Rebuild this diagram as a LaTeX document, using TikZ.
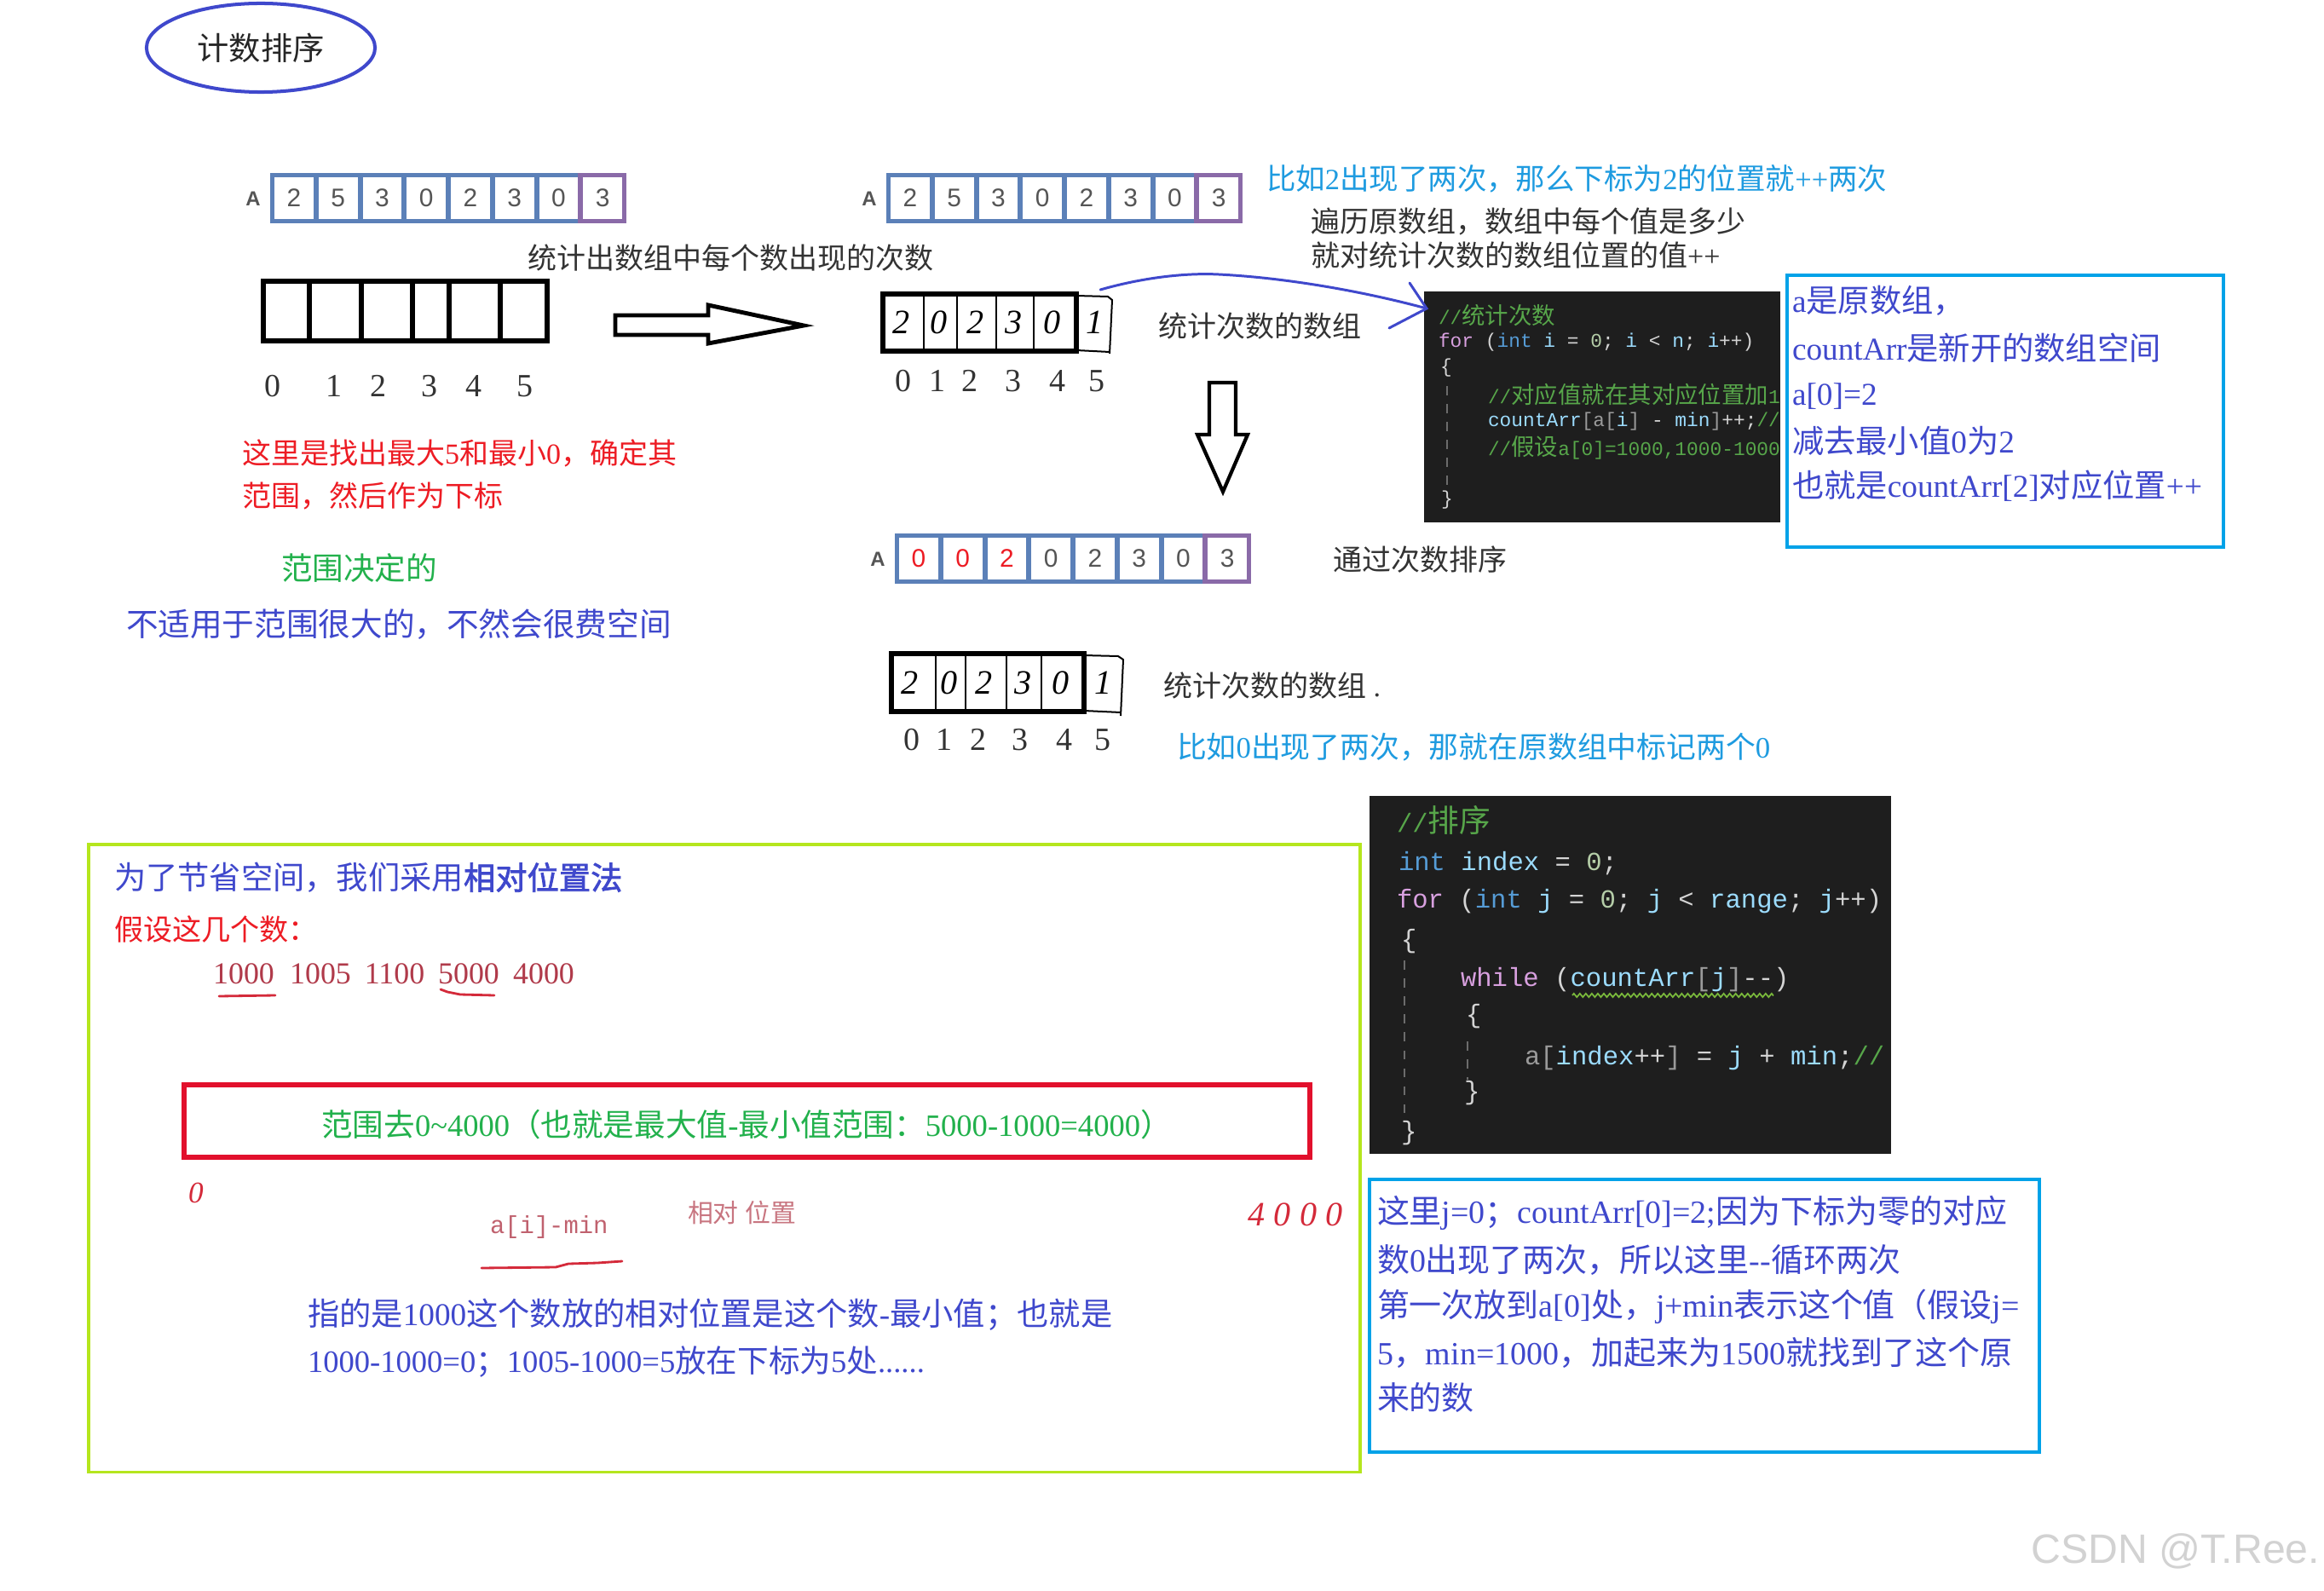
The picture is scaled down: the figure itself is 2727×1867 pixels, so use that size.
\documentclass[tikz,border=0pt]{standalone}
\usepackage{fontspec}
\setmainfont{Liberation Serif}
\setmonofont{Liberation Mono}
\newfontfamily\cjkreg{Noto Sans CJK SC}
\newfontfamily\cjkbf[FakeBold=2]{Noto Sans CJK SC}
\newfontfamily\cjkcode[Scale=1.2]{Noto Sans CJK SC}
\newfontfamily\sansf{Liberation Sans}
\usetikzlibrary{shapes.geometric,decorations.pathmorphing}

% automatic switch to the CJK font for CJK characters
\XeTeXinterchartokenstate=1
\chardef\CJKcls=200
\newcount\cjkcnt
\def\cjkrange#1#2{\cjkcnt=#1\relax
  \loop\XeTeXcharclass\cjkcnt=\CJKcls\relax
  \ifnum\cjkcnt<#2\relax\advance\cjkcnt by 1\relax\repeat}
\cjkrange{"3000}{"303F}
\cjkrange{"4E00}{"9FFF}
\cjkrange{"FF00}{"FFEF}
\def\cjkfont{\cjkreg}
\def\cjkprev{}
\def\cjkenter{\expandafter\let\expandafter\cjkprev\the\font\cjkfont}
\XeTeXinterchartoks 0 \CJKcls = {\cjkenter}
\XeTeXinterchartoks 4095 \CJKcls = {\cjkenter}
\XeTeXinterchartoks \CJKcls 0 = {\cjkprev}
\XeTeXinterchartoks \CJKcls 4095 = {\cjkprev}

\newcommand\fsz[1]{\fontsize{#1pt}{#1pt}\selectfont}

\definecolor{ellc}{HTML}{3F48CC}
\definecolor{blueT}{HTML}{3F48CC}
\definecolor{cyanT}{HTML}{1E9BE0}
\definecolor{redT}{HTML}{ED1C24}
\definecolor{greenT}{HTML}{22B14C}
\definecolor{grayT}{HTML}{333333}
\definecolor{arrblue}{HTML}{5B80B8}
\definecolor{arrpurple}{HTML}{8A6AA8}
\definecolor{digc}{HTML}{555555}
\definecolor{boxcyan}{HTML}{00A2E8}
\definecolor{boxgreen}{HTML}{B5E61D}
\definecolor{boxred}{HTML}{E2102C}
\definecolor{codebg}{HTML}{1E1E1E}
\definecolor{cK}{HTML}{D8A0DF}
\definecolor{cT}{HTML}{569CD6}
\definecolor{cI}{HTML}{9CDCFE}
\definecolor{cN}{HTML}{B5CEA8}
\definecolor{cP}{HTML}{D4D4D4}
\definecolor{cC}{HTML}{57A64A}
\definecolor{cG}{HTML}{9A9A9A}
\definecolor{numred}{HTML}{B03A4A}
\definecolor{handred}{HTML}{D42A3A}
\definecolor{wmark}{HTML}{D2D2D2}

\newcommand\coK[1]{\textcolor{cK}{#1}}
\newcommand\coT[1]{\textcolor{cT}{#1}}
\newcommand\coI[1]{\textcolor{cI}{#1}}
\newcommand\coN[1]{\textcolor{cN}{#1}}
\newcommand\coP[1]{\textcolor{cP}{#1}}
\newcommand\coC[1]{\textcolor{cC}{#1}}
\newcommand\coG[1]{\textcolor{cG}{#1}}

\tikzset{
  tx/.style={inner sep=0pt, outer sep=0pt, anchor=west},
  tc/.style={inner sep=0pt, outer sep=0pt},
  bx/.style={inner sep=0pt, outer sep=0pt, anchor=north west},
  idx/.style={tc, text=grayT, font=\fsz{10.8}},
  hand/.style={tc, text=black, font={\itshape\fsz{11.4}}},
  adigit/.style={tc, font={\sansf\fsz{8.5}}},
  alabel/.style={tc, text=digc, font={\sansf\bfseries\fsz{6.8}}},
  graytext/.style={tx, text=grayT, font=\fsz{9.67}},
  cf1/.style={tx, font={\ttfamily\fsz{6.5}\def\cjkfont{\cjkcode}}},
  cf2/.style={tx, font={\ttfamily\fsz{8.7}\def\cjkfont{\cjkcode}}},
  boxtext/.style={tx, text=blueT, font=\fsz{10.6}},
  thinhand/.style={line width=0.57pt, line join=round},
  thickhand/.style={line width=1.7pt},
  guide/.style={draw=cG!70!black, dashed, line width=0.6pt},
  blueline/.style={draw=ellc, line width=0.85pt, line cap=round},
  redline/.style={draw=handred, line width=0.8pt, line cap=round},
}

\newcommand\cellarray[4]{%
  \fill[arrblue] (#2,#3) rectangle ++(418,59);
  \fill[arrpurple] (#2+361,#3) rectangle ++(57,59);
  \node[bx, minimum width=4.18cm, minimum height=0.59cm] (#1) at (#2,#3) {};
  \node[alabel] (#1A) at (#2-20,#3+30) {A};
  \foreach \dg/\cl [count=\ii from 0] in {#4}{%
    \fill[white] ({#2+5+51.75*\ii},#3+5) rectangle ++(45.75,49);
    \node[adigit, text=\cl] (#1-\ii) at ({#2+27.9+51.75*\ii},#3+29.5) {\dg};
  }%
}

\begin{document}
\begin{tikzpicture}[x=0.01cm, y=-0.01cm]
\path[use as bounding box, fill=white] (0,0) rectangle (2727,1867);

% ---------- title
\node[ellipse, draw=ellc, line width=1.14pt, minimum width=2.68cm, minimum height=1.04cm,
      inner sep=0pt, text=black!85, font=\fsz{10.6}] (title) at (306,56) {计数排序};

% ---------- arrays A
\cellarray{arrA}{317}{203}{2/digc,5/digc,3/digc,0/digc,2/digc,3/digc,0/digc,3/digc}
\cellarray{arrB}{1040}{203}{2/digc,5/digc,3/digc,0/digc,2/digc,3/digc,0/digc,3/digc}
\cellarray{arrC}{1050}{626}{0/redT,0/redT,2/redT,0/digc,2/digc,3/digc,0/digc,3/digc}

% ---------- empty count array
\node[bx, draw, line width=1.7pt, minimum width=3.33cm, minimum height=0.70cm] (emp) at (309,330) {};
\foreach \x in {363,424,484,527,587} \draw[thickhand] (\x,330) -- (\x,400);
\foreach \d/\x in {0/320,1/392,2/444,3/504,4/556,5/616} \node[idx] (ei\d) at (\x,453) {\d};

% hollow right arrow
\draw[line width=1.4pt, fill=white, line join=miter]
  (722,370) -- (831,370) -- (831,358) -- (943,382) -- (831,403) -- (831,393) -- (722,393) -- cycle;

\node[graytext] (t1) at (619,303) {统计出数组中每个数出现的次数};

% ---------- count array 1 (hand drawn)
\node[bx, draw, thickhand, minimum width=2.27cm, minimum height=0.67cm] (cnt1) at (1036,345) {};
\draw[thinhand] (1263,347) -- (1300,348) -- (1305,352) -- (1302,415);
\draw[thinhand] (1263,411) -- (1302,413);
\foreach \x in {1084,1123,1169,1213} \draw[thinhand] (\x,347) -- (\x,412);
\foreach \d/\x [count=\i] in {2/1058,0/1102,2/1145,3/1190,0/1235,1/1285}
  \node[hand] (cnt1-\i) at (\x,378) {\d};
\foreach \d/\x in {0/1060,1/1100,2/1138,3/1189,4/1241,5/1287} \node[idx] (ci\d) at (\x,447) {\d};
\node[graytext] (t2) at (1359,383) {统计次数的数组};

% down hollow arrow
\draw[line width=1.2pt, fill=white, line join=miter]
  (1419,449) -- (1450,449) -- (1450,510) -- (1464,510) -- (1435,577) -- (1405,510) -- (1419,510) -- cycle;

% ---------- top right texts
\node[tx, text=cyanT, font=\fsz{9.8}] (t3) at (1486,210) {比如2出现了两次，那么下标为2的位置就++两次};
\node[graytext] (t4) at (1538,260) {遍历原数组，数组中每个值是多少};
\node[graytext] (t5) at (1538,300) {就对统计次数的数组位置的值++};

% ---------- code block 1
\node[bx, fill=codebg, minimum width=4.18cm, minimum height=2.71cm] (code1) at (1671,342) {};
\begin{scope}
\clip (code1.south west) rectangle (code1.north east);
\node[cf1] (c1l1) at (1688,370) {\coC{//统计次数}};
\node[cf1] (c1l2) at (1688,402) {\coK{for} \coP{(}\coT{int} \coI{i} \coP{=} \coN{0}\coP{;} \coI{i} \coP{<} \coI{n}\coP{;} \coI{i}\coP{++)}};
\node[cf1] (c1l3) at (1690,432) {\coP{\{}};
\node[cf1] (c1l4) at (1746,463) {\coC{//对应值就在其对应位置加1}};
\node[cf1] (c1l5) at (1746,495) {\coI{countArr}\coG{[}\coG{a}\coG{[}\coI{i}\coG{]} \coP{-} \coI{min}\coG{]}\coP{++;}\coC{//}};
\node[cf1] (c1l6) at (1746,525) {\coC{//假设a[0]=1000,1000-1000}};
\node[cf1] (c1l7) at (1691,587) {\coP{\}}};
\draw[guide] (1698,453) -- (1698,570);
\end{scope}

% blue curved connector
\coordinate (cstart) at ([shift={(28,-5)}]cnt1.north east);
\coordinate (ctip) at ([shift={(3,20)}]code1.north west);
\draw[blueline] (cstart) .. controls (1340,326) and (1390,320) .. (1430,322)
                         .. controls (1510,326) and (1600,342) .. (ctip);
\draw[blueline] ([shift={(-20,-30)}]ctip) -- (ctip) -- ([shift={(-44,23)}]ctip);

% ---------- blue box 1
\node[bx, draw=boxcyan, line width=1.14pt, minimum width=5.12cm, minimum height=3.19cm] (bbox1) at (2097,323) {};
\node[boxtext] (b1l1) at (2103,353) {a是原数组，};
\node[boxtext] (b1l2) at (2103,408) {countArr是新开的数组空间};
\node[boxtext] (b1l3) at (2103,465) {a[0]=2};
\node[boxtext] (b1l4) at (2103,517) {减去最小值0为2};
\node[boxtext] (b1l5) at (2103,570) {也就是countArr[2]对应位置++};

% ---------- middle
\node[graytext] (t6) at (1564,657) {通过次数排序};

\node[bx, draw, thickhand, minimum width=2.26cm, minimum height=0.68cm] (cnt2) at (1046,767) {};
\draw[thinhand] (1272,769) -- (1312,770) -- (1318,774) -- (1315,840);
\draw[thinhand] (1272,834) -- (1315,836);
\foreach \x in {1098,1133,1181,1222} \draw[thinhand] (\x,769) -- (\x,838);
\foreach \d/\x [count=\i] in {2/1068,0/1114,2/1155,3/1201,0/1245,1/1295}
  \node[hand] (cnt2-\i) at (\x,801) {\d};
\foreach \d/\x in {0/1070,1/1108,2/1148,3/1197,4/1249,5/1294} \node[idx] (di\d) at (\x,868) {\d};
\node[graytext] (t7) at (1365,805) {统计次数的数组 .};
\node[tx, text=cyanT, font=\fsz{9.9}] (t8) at (1381,877) {比如0出现了两次，那就在原数组中标记两个0};

% ---------- left notes
\node[tx, text=redT, font=\fsz{9.67}] (n1) at (284,532) {这里是找出最大5和最小0，确定其};
\node[tx, text=redT, font=\fsz{9.67}] (n2) at (284,582) {范围，然后作为下标};
\node[tx, text=greenT, font=\fsz{10.4}] (n3) at (330,667) {范围决定的};
\node[tx, text=blueT, font=\fsz{10.7}] (n4) at (148,733) {不适用于范围很大的，不然会很费空间};

% ---------- green box
\node[bx, draw=boxgreen, line width=1pt, minimum width=14.91cm, minimum height=7.36cm] (gbox) at (104,991) {};
\node[tx, text=blueT, font=\fsz{10.6}] (g1) at (134,1030) {为了节省空间，我们采用{\def\cjkfont{\cjkbf}相对位置法}};
\node[tx, text=redT, font=\fsz{9.7}] (g2) at (134,1090) {假设这几个数：};
\foreach \v/\x in {1000/286,1005/376,1100/463,5000/550,4000/638}
  \node[tc, text=numred, font=\fsz{10.2}] (num\v) at (\x,1143) {\v};
\draw[redline] (257,1169) -- (323,1168);
\draw[redline] (517,1161) -- (525,1164) -- (540,1167) -- (580,1168);

\node[bx, draw=boxred, line width=1.7pt, minimum width=13.20cm, minimum height=0.85cm] (rbox) at (216,1273) {};
\node[tc, text=greenT, font=\fsz{10.4}] (rtext) at (876,1320) {范围去0\textasciitilde 4000（也就是最大值-最小值范围：5000-1000=4000）};

\node[tc, text=handred, font={\itshape\fsz{10}}] (h0) at (230,1400) {0};
\node[tc, text=handred, font={\itshape\fsz{11.4}}] (h4000) at (1520,1425) {4 0 0 0};
\node[tx, text=numred!80, font={\ttfamily\fsz{8.2}}] (aimin) at (575,1440) {a[i]-min};
\node[tx, text=numred!70, font=\fsz{8.5}] (xdwz) at (807,1423) {相对 位置};
\draw[redline] (565,1488) -- (652,1487) -- (667,1483) -- (701,1482) -- (730,1480);

\node[tx, text=blueT, font=\fsz{10.6}] (g3) at (361,1543) {指的是1000这个数放的相对位置是这个数-最小值；也就是};
\node[tx, text=blueT, font=\fsz{10.4}] (g4) at (361,1598) {1000-1000=0；1005-1000=5放在下标为5处......};

% ---------- code block 2
\node[bx, fill=codebg, minimum width=6.12cm, minimum height=4.20cm] (code2) at (1607,934) {};
\begin{scope}
\clip (code2.south west) rectangle (code2.north east);
\node[cf2] (c2l1) at (1639,963) {\coC{//排序}};
\node[cf2] (c2l2) at (1641,1013) {\coT{int} \coI{index} \coP{=} \coN{0}\coP{;}};
\node[cf2] (c2l3) at (1639,1058) {\coK{for} \coP{(}\coT{int} \coI{j} \coP{=} \coN{0}\coP{;} \coI{j} \coP{<} \coI{range}\coP{;} \coI{j}\coP{++)}};
\node[cf2] (c2l4) at (1644,1105) {\coP{\{}};
\node[cf2] (c2l5) at (1714,1150) {\coK{while} \coP{(}\coI{countArr}\coG{[}\coI{j}\coG{]}\coP{-{}-)}};
\node[cf2] (c2l6) at (1720,1193) {\coP{\{}};
\node[cf2] (c2l7) at (1789,1242) {\coG{a[}\coI{index}\coP{++}\coG{]} \coP{=} \coI{j} \coP{+} \coI{min}\coP{;}\coC{//}};
\node[cf2] (c2l8) at (1718,1283) {\coP{\}}};
\node[cf2] (c2l9) at (1644,1330) {\coP{\}}};
\draw[guide] (1648,1127) -- (1648,1310);
\draw[guide] (1722,1222) -- (1722,1267);
\draw[draw=cC!80!yellow, line width=0.5pt, decorate, decoration={zigzag, segment length=2pt, amplitude=0.6pt}]
  (1845,1168) -- (2081,1168);
\end{scope}

% ---------- blue box 2
\node[bx, draw=boxcyan, line width=1.14pt, minimum width=7.86cm, minimum height=3.20cm] (bbox2) at (1607,1384) {};
\node[boxtext, font=\fsz{10.8}] (b2l1) at (1616,1423) {这里j=0；countArr[0]=2;因为下标为零的对应};
\node[boxtext, font=\fsz{10.8}] (b2l2) at (1616,1478) {数0出现了两次，所以这里-{}-循环两次};
\node[boxtext, font=\fsz{10.8}] (b2l3) at (1616,1533) {第一次放到a[0]处，j+min表示这个值（假设j=};
\node[boxtext, font=\fsz{10.8}] (b2l4) at (1616,1587) {5，min=1000，加起来为1500就找到了这个原};
\node[boxtext, font=\fsz{10.8}] (b2l5) at (1616,1640) {来的数};

% ---------- watermark
\node[tc, anchor=east, text=wmark, font={\sansf\fsz{13.7}}] (wm) at (2722,1820) {CSDN @T.Ree.};
\end{tikzpicture}
\end{document}
